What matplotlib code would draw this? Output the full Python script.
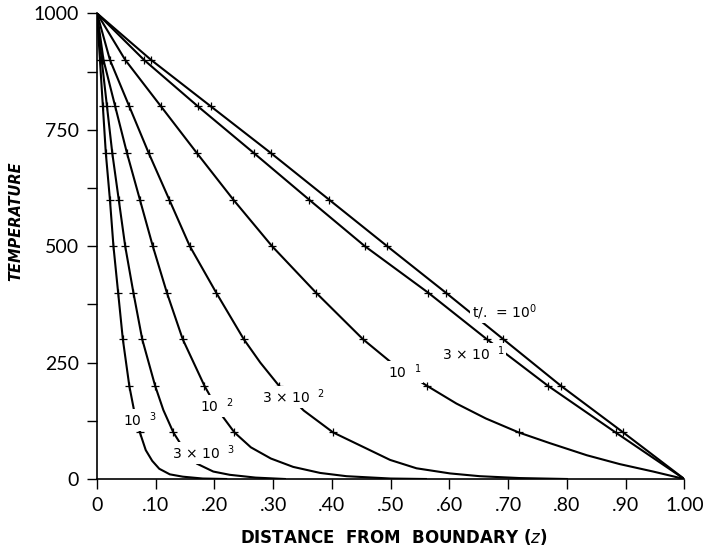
import matplotlib.pyplot as plt

# temperature levels where the curves carry a "+" mark
marker_temps = [900, 800, 700, 600, 500, 400, 300, 200, 100]

# x position of the marks on each curve
marks_1e0 = [0.092, 0.194, 0.296, 0.395, 0.494, 0.594, 0.692, 0.790, 0.896]
marks_3e_1 = [0.080, 0.172, 0.267, 0.361, 0.456, 0.564, 0.664, 0.768, 0.883]
marks_1e_1 = [0.048, 0.109, 0.170, 0.232, 0.298, 0.373, 0.453, 0.562, 0.718]
marks_3e_2 = [0.022, 0.055, 0.088, 0.123, 0.158, 0.203, 0.250, 0.310, 0.402]
marks_1e_2 = [0.011, 0.031, 0.051, 0.073, 0.095, 0.119, 0.146, 0.183, 0.234]
marks_3e_3 = [0.008, 0.017, 0.026, 0.037, 0.048, 0.062, 0.077, 0.099, 0.130]
marks_1e_3 = [0.005, 0.010, 0.015, 0.022, 0.028, 0.036, 0.044, 0.055, 0.073]

# extra points between / after the marks (x, T)
extra_1e0_x, extra_1e0_t = [1.0], [0]
extra_3e_1_x, extra_3e_1_t = [1.0], [0]
extra_1e_1_x = [0.505, 0.612, 0.662, 0.771, 0.834, 0.890, 0.947, 1.0]
extra_1e_1_t = [246, 162, 130, 77, 51, 32, 16, 0]
extra_3e_2_x = [0.278, 0.352, 0.453, 0.499, 0.544, 0.601, 0.652, 0.72, 0.80]
extra_3e_2_t = [250, 147, 69, 41, 23, 12, 6, 2, 0]
extra_1e_2_x = [0.207, 0.262, 0.296, 0.334, 0.380, 0.425, 0.50, 0.56]
extra_1e_2_t = [146, 68, 44, 26, 13, 6, 1, 0]
extra_3e_3_x = [0.113, 0.148, 0.170, 0.198, 0.226, 0.27, 0.32]
extra_3e_3_t = [148, 64, 33, 16, 9, 3, 0]
extra_1e_3_x = [0.063, 0.083, 0.094, 0.106, 0.124, 0.146, 0.18, 0.22]
extra_1e_3_t = [148, 62, 39, 22, 10, 5, 1, 0]

curves = [
    (marks_1e0, extra_1e0_x, extra_1e0_t),
    (marks_3e_1, extra_3e_1_x, extra_3e_1_t),
    (marks_1e_1, extra_1e_1_x, extra_1e_1_t),
    (marks_3e_2, extra_3e_2_x, extra_3e_2_t),
    (marks_1e_2, extra_1e_2_x, extra_1e_2_t),
    (marks_3e_3, extra_3e_3_x, extra_3e_3_t),
    (marks_1e_3, extra_1e_3_x, extra_1e_3_t),
]

# curve labels: text, x, T (left edge of text)
label_texts = ['t/.  = 10$^{0}$', '3 × 10  $^{1}$', '10  $^{1}$', '3 × 10  $^{2}$',
               '10  $^{2}$', '10  $^{3}$', '3 × 10  $^{3}$']
label_x = [0.638, 0.587, 0.495, 0.281, 0.175, 0.044, 0.128]
label_t = [358, 270, 230, 176, 157, 127, 56]

xtick_vals = [0, 0.1, 0.2, 0.3, 0.4, 0.5, 0.6, 0.7, 0.8, 0.9, 1.0]
xtick_labels = ['0', '.10', '.20', '.30', '.40', '.50', '.60', '.70', '.80', '.90', '1.00']
ytick_vals = [0, 250, 500, 750, 1000]
ytick_minor = [125, 375, 625, 875]

fig = plt.figure(figsize=(7.03, 5.55), dpi=100)
ax = fig.add_axes([97 / 703, 1 - 479 / 555, 587.3 / 703, 465.7 / 555])

for marks, ex, et in curves:
    pts = [(0.0, 1000)] + list(zip(marks, marker_temps)) + list(zip(ex, et))
    pts.sort(key=lambda p: (p[0], -p[1]))
    ax.plot([p[0] for p in pts], [p[1] for p in pts], color='black', lw=1.5, zorder=2)
    ax.plot(marks, marker_temps, ls='none', marker='+', ms=6, mew=0.9, color='black', zorder=3)

for txt, x, t in zip(label_texts, label_x, label_t):
    ax.text(x, t, txt, fontsize=10, ha='left', va='center', zorder=5,
            bbox=dict(facecolor='white', edgecolor='none', pad=1.0))

ax.set_xlim(0, 1.0)
ax.set_ylim(0, 1000)
ax.spines['top'].set_visible(False)
ax.spines['right'].set_visible(False)
ax.spines['left'].set_linewidth(1.2)
ax.spines['bottom'].set_linewidth(1.2)

ax.set_xticks(xtick_vals)
ax.set_xticklabels(xtick_labels, fontsize=14, family='Lato', color='black')
ax.set_yticks(ytick_vals)
ax.set_yticks(ytick_minor, minor=True)
ax.set_yticklabels([str(v) for v in ytick_vals], fontsize=14, family='Lato', color='black')
ax.tick_params(axis='both', which='both', direction='out', length=7, width=1, pad=6)

fig.text(16 / 703, 1 - 221 / 555, 'TEMPERATURE', rotation=90, ha='center', va='center',
         fontsize=10.5, fontweight='bold', style='italic')
fig.text(394 / 703, 1 - 537 / 555, 'DISTANCE  FROM  BOUNDARY ($\\mathit{z}$)', ha='center', va='center',
         fontsize=12, fontweight='bold')

fig.savefig('out.png', dpi=100)
